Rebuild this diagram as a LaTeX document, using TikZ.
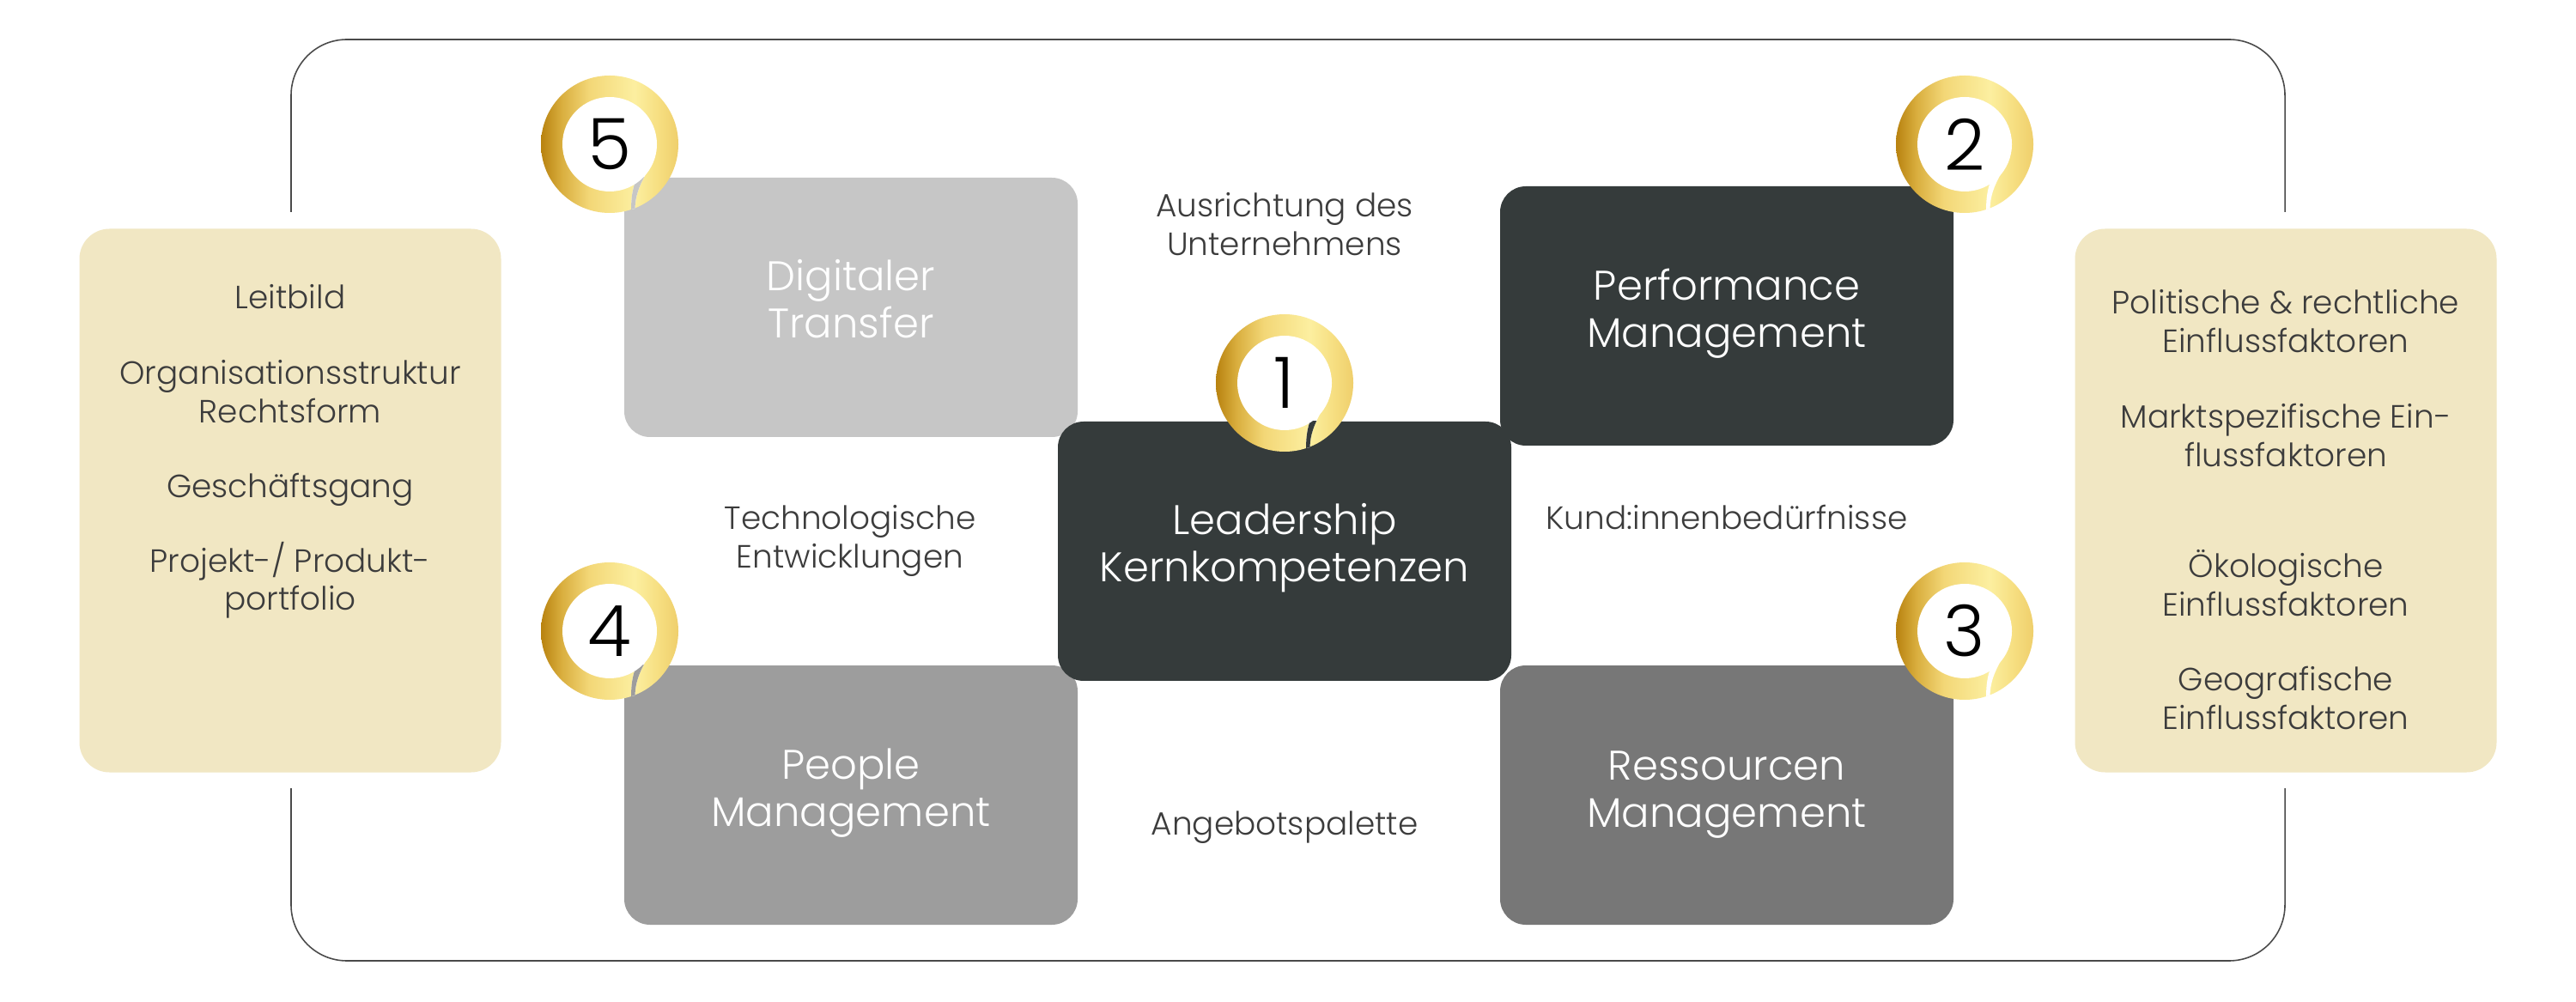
\documentclass[tikz,border=0pt]{standalone}
\usepackage{fontspec}
\setmainfont{Poppins Light}
\definecolor{boxdark}{HTML}{353B3B}
\definecolor{boxmid}{HTML}{777777}
\definecolor{boxgray}{HTML}{9D9D9D}
\definecolor{boxlight}{HTML}{C6C6C6}
\definecolor{sideyellow}{HTML}{F1E7C3}
\definecolor{textgray}{HTML}{3C3C3C}
\definecolor{framegray}{HTML}{4A4A4A}
\definecolor{gold0}{HTML}{B8820F}
\definecolor{gold1}{HTML}{D9AE3E}
\definecolor{gold2}{HTML}{F3D777}
\definecolor{gold3}{HTML}{FCEFA0}
\definecolor{gold4}{HTML}{F6DE80}
\definecolor{gold5}{HTML}{EFCF6C}
\pgfdeclarehorizontalshading{goldshade}{100bp}{color(0bp)=(gold0); color(25bp)=(gold0); color(32.5bp)=(gold1); color(42.5bp)=(gold2); color(59bp)=(gold3); color(68bp)=(gold4); color(75bp)=(gold5); color(100bp)=(gold5)}
\begin{document}
\begin{tikzpicture}[
        mainbox/.style={rectangle, rounded corners=0.3cm, minimum width=5.28cm, minimum height=3.02cm},
        boxtext/.style={align=center, text=white, font=\fontsize{13.7}{15.7}\selectfont},
        sidebox/.style={rectangle, rounded corners=0.35cm, fill=sideyellow, minimum width=4.91cm, minimum height=6.33cm},
        label/.style={align=center, text=textgray, font=\fontsize{10.65}{12.6}\selectfont},
        goldring/.style={circle, shading=goldshade, minimum size=1.6cm, inner sep=0pt},
        whitedisc/.style={circle, fill=white, minimum size=1.1cm, inner sep=0pt, text=black, font=\fontsize{23.5}{23.5}\selectfont},
        ringslit/.style={insert path={(0.543,-0.073) .. controls (0.50,-0.28) and (0.30,-0.45) .. (0.295,-0.75) -- (0.25,-0.76) .. controls (0.25,-0.62) and (0.27,-0.52) .. (0.295,-0.45) -- cycle}}
    ]
        \useasboundingbox (0,0) rectangle (30,11.66);
        \fill[white] (0,0) rectangle (30,11.66);
        \coordinate (frameul) at (3.39,9.19);
        \coordinate (frameur) at (26.61,9.19);
        \coordinate (framell) at (3.39,2.48);
        \coordinate (framelr) at (26.61,2.48);
        \draw[framegray, line width=0.45pt, rounded corners=0.65cm] (frameul) |- (26.61,11.2) -- (frameur);
        \draw[framegray, line width=0.45pt, rounded corners=0.65cm] (framell) |- (26.61,0.47) -- (framelr);

        \node[sidebox] (leftbox) at (3.38,5.83) {};
        \node[sidebox] (rightbox) at (26.62,5.83) {};
        \node[label] (leitbild) at (3.38,8.20) {Leitbild};
        \node[label] (struktur) at (3.38,7.10) {Organisationsstruktur\\Rechtsform};
        \node[label] (gang) at (3.38,5.96) {Geschäftsgang};
        \node[label] (portfolio) at (3.38,4.90) {Projekt-/ Produkt-\\portfolio};
        \node[label] (politik) at (26.62,7.92) {Politische \& rechtliche\\Einflussfaktoren};
        \node[label] (markt) at (26.62,6.59) {Marktspezifische Ein-\\flussfaktoren};
        \node[label] (oeko) at (26.62,4.87) {Ökologische\\Einflussfaktoren};
        \node[label] (geo) at (26.62,3.53) {Geografische\\Einflussfaktoren};

        \node[mainbox, fill=boxlight] (digital) at (9.91,8.08) {};
        \node[mainbox, fill=boxdark] (performance) at (20.11,7.98) {};
        \node[mainbox, fill=boxgray] (people) at (9.91,2.40) {};
        \node[mainbox, fill=boxmid] (ressourcen) at (20.11,2.40) {};
        \node[mainbox, fill=boxdark] (leadership) at (14.96,5.24) {};
        \node[boxtext] (digitaltext) at (9.91,8.18) {Digitaler\\Transfer};
        \node[boxtext] (performancetext) at (20.11,8.01) {Performance\\Management};
        \node[boxtext] (peopletext) at (9.91,2.42) {People\\Management};
        \node[boxtext] (ressourcentext) at (20.11,2.40) {Ressourcen\\Management};
        \node[boxtext] (leadershiptext) at (14.96,5.28) {Leadership\\Kernkompetenzen};

        \node[label] (ausrichtung) at (14.96,9.05) {Ausrichtung des\\Unternehmens};
        \node[label] (technologie) at (9.90,5.36) {Technologische\\Entwicklungen};
        \node[label] (kunden) at (20.11,5.63) {Kund:innenbedürfnisse};
        \node[label] (angebot) at (14.96,2.02) {Angebotspalette};

        \node[goldring] (ringfive) at (7.10,9.98) {};
        \fill[white, shift={(ringfive.center)}, ringslit];
        \begin{scope}
            \clip (digital.south west) rectangle (digital.north east);
            \fill[boxlight, shift={(ringfive.center)}, ringslit];
        \end{scope}
        \node[whitedisc] (discfive) at (ringfive) {5};

        \node[goldring] (ringtwo) at (22.88,9.98) {};
        \fill[white, shift={(ringtwo.center)}, ringslit];
        \node[whitedisc] (disctwo) at (ringtwo) {2};

        \node[goldring] (ringone) at (14.96,7.20) {};
        \fill[white, shift={(ringone.center)}, ringslit];
        \begin{scope}
            \clip (leadership.south west) rectangle (leadership.north east);
            \fill[boxdark, shift={(ringone.center)}, ringslit];
        \end{scope}
        \node[whitedisc] (discone) at (ringone) {1};

        \node[goldring] (ringfour) at (7.10,4.31) {};
        \fill[white, shift={(ringfour.center)}, ringslit];
        \begin{scope}
            \clip (people.south west) rectangle (people.north east);
            \fill[boxgray, shift={(ringfour.center)}, ringslit];
        \end{scope}
        \node[whitedisc] (discfour) at (ringfour) {4};

        \node[goldring] (ringthree) at (22.88,4.31) {};
        \fill[white, shift={(ringthree.center)}, ringslit];
        \node[whitedisc] (discthree) at (ringthree) {3};
    \end{tikzpicture}
\end{document}
